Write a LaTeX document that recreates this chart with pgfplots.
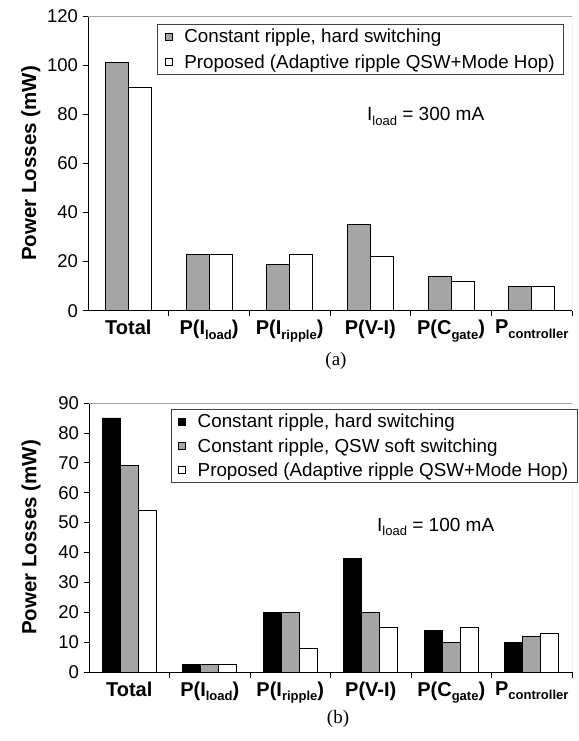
\documentclass[border=0pt]{standalone}
\usepackage{fontspec}
\setmainfont{Liberation Sans}
\newfontfamily\timesfont{Liberation Serif}
\usepackage{pgfplots}
\pgfplotsset{compat=1.18}

\definecolor{barfill}{RGB}{165,165,165}
\definecolor{framegray}{RGB}{165,165,165}
\newcommand\sub[1]{\raisebox{-4.5pt}{\fontsize{13}{13}\selectfont #1}}

\pgfplotsset{
  lossplot/.style={
    scale only axis, anchor=south west,
    xmin=-0.5, xmax=5.5, ymin=0,
    axis x line*=bottom, axis y line*=left,
    axis line style={-, black, line width=0.8pt},
    tick align=outside,
    major tick length=5.5pt,
    tick style={black, line width=0.8pt},
    xtick={0.5,1.5,2.5,3.5,4.5,5.5}, xticklabels={},
    extra x ticks={0,1,2,3,4,5},
    extra x tick labels={Total, P(I\sub{load}), P(I\sub{ripple}), P(V-I), P(C\sub{gate}), P\sub{controller}},
    extra x tick style={major tick length=0pt},
    xticklabel style={font=\fontsize{20}{20}\selectfont\bfseries, yshift=-6pt},
    yticklabel style={font=\fontsize{18.5}{18.5}\selectfont, xshift=-1pt},
    /pgf/number format/assume math mode=true,
    ylabel={Power Losses (mW)},
    ylabel style={font=\fontsize{20.5}{20.5}\selectfont\bfseries, anchor=center},
    ybar,
    legend cell align=left,
  },
  sqlegend/.style={legend image code/.code={\draw[##1,line width=0.7pt] (0pt,-3.5pt) rectangle (7pt,3.5pt);}},
  lgd/.style={legend style={draw=black!75, line width=0.8pt,
    font=\fontsize{18.8}{18.8}\selectfont, inner xsep=7pt, inner ysep=3pt,
    nodes={inner xsep=2pt},
    /tikz/every odd column/.append style={column sep=10pt}}},
}

\begin{document}
\begin{tikzpicture}
\useasboundingbox (0pt,0pt) rectangle (578pt,-741pt);

% (a) I_load = 300 mA
\begin{axis}[lossplot, lgd,
  at={(88pt,-310.7pt)}, width=484pt, height=294.7pt,
  ymax=120, ytick={0,20,...,120},
  ylabel style={at={(axis description cs:-0.118,0.5)}},
  legend style={at={(0.143,0.973)}, anchor=north west, row sep=6pt},
]
  \addplot[fill=barfill, draw=black, line width=0.7pt, bar width=0.285, bar shift=-0.1425, sqlegend]
    coordinates {(0,101) (1,23) (2,19) (3,35) (4,14) (5,10)};
  \addlegendentry{Constant ripple, hard switching}
  \addplot[fill=white, draw=black, line width=0.7pt, bar width=0.285, bar shift=0.1425, sqlegend]
    coordinates {(0,91) (1,23) (2,23) (3,22) (4,12) (5,10)};
  \addlegendentry{Proposed (Adaptive ripple QSW+Mode Hop)}
  \draw[framegray, line width=0.8pt] (rel axis cs:0,1) -- (rel axis cs:1,1) -- (rel axis cs:1,0);
\end{axis}
\node[anchor=base west, font=\fontsize{19}{19}\selectfont, inner sep=0pt] at (367pt,-121pt) {I\sub{load} = 300 mA};
\node[font=\timesfont\fontsize{19}{19}\selectfont] at (336pt,-361pt) {(a)};

% (b) I_load = 100 mA
\begin{axis}[lossplot, lgd,
  at={(89pt,-672pt)}, width=483pt, height=269pt,
  ymax=90, ytick={0,10,...,90},
  ylabel style={at={(axis description cs:-0.12,0.5)}},
  legend style={at={(0.169,0.978)}, anchor=north west, row sep=5pt},
]
  \addplot[fill=black, draw=black, line width=0.7pt, bar width=0.224, bar shift=-0.224, sqlegend]
    coordinates {(0,85) (1,2.5) (2,20) (3,38) (4,14) (5,10)};
  \addlegendentry{Constant ripple, hard switching}
  \addplot[fill=barfill, draw=black, line width=0.7pt, bar width=0.224, bar shift=0, sqlegend]
    coordinates {(0,69) (1,2.5) (2,20) (3,20) (4,10) (5,12)};
  \addlegendentry{Constant ripple, QSW soft switching}
  \addplot[fill=white, draw=black, line width=0.7pt, bar width=0.224, bar shift=0.224, sqlegend]
    coordinates {(0,54) (1,2.5) (2,8) (3,15) (4,15) (5,13)};
  \addlegendentry{Proposed (Adaptive ripple QSW+Mode Hop)}
  \draw[framegray, line width=0.8pt] (rel axis cs:0,1) -- (rel axis cs:1,1) -- (rel axis cs:1,0);
\end{axis}
\node[anchor=base west, font=\fontsize{19}{19}\selectfont, inner sep=0pt] at (377pt,-531pt) {I\sub{load} = 100 mA};
\node[font=\timesfont\fontsize{19}{19}\selectfont] at (338pt,-719pt) {(b)};
\end{tikzpicture}
\end{document}
